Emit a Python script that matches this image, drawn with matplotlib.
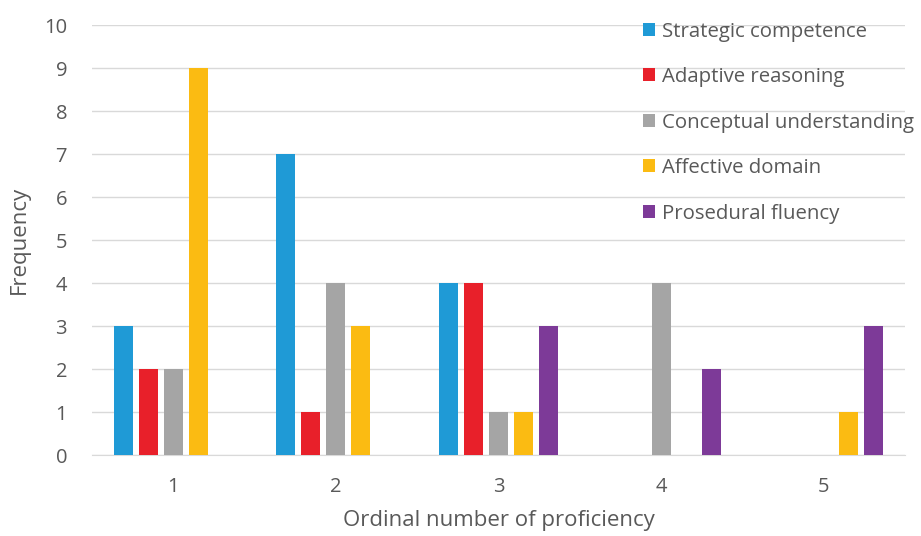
import numpy as np
import matplotlib.pyplot as plt

plt.rcParams['font.family'] = ['Open Sans', 'DejaVu Sans']

groups = [1, 2, 3, 4, 5]
series = ['Strategic competence', 'Adaptive reasoning', 'Conceptual understanding',
          'Affective domain', 'Prosedural fluency']
values = [
    [3, 7, 4, 0, 0],
    [2, 1, 4, 0, 0],
    [2, 4, 1, 4, 0],
    [9, 3, 1, 0, 1],
    [0, 0, 3, 2, 3],
]
colors = ['#1f9ad6', '#e8202a', '#a5a5a5', '#fbbb12', '#7d3a98']

fig = plt.figure(figsize=(9.21, 5.36), dpi=100)
ax = fig.add_axes([0.0999, 0.151, 0.8827, 0.802])

x = np.array(groups)
step = 0.154
width = 0.117
for i, (name, vals) in enumerate(zip(series, values)):
    ax.bar(x + (i - 2) * step, vals, width, color=colors[i], label=name, zorder=3)

ax.set_xlim(0.5, 5.5)
ax.set_ylim(0, 10)
ax.set_yticks(range(0, 11))
ax.set_xticks(groups)
ax.yaxis.grid(True, color='#d9d9d9', linewidth=1, zorder=0)
for s in ['top', 'right', 'left']:
    ax.spines[s].set_visible(False)
ax.spines['bottom'].set_color('#d9d9d9')
ax.tick_params(length=0, labelsize=14.5, colors='#595959')
ax.tick_params(axis='x', pad=16)
ax.tick_params(axis='y', pad=18)

ax.set_xlabel('Ordinal number of proficiency', fontsize=16, color='#595959', labelpad=9)
ax.set_ylabel('Frequency', fontsize=16, color='#595959', labelpad=10)

leg = ax.legend(loc='upper left', bbox_to_anchor=(0.689, 0.975), bbox_transform=fig.transFigure,
                frameon=False, fontsize=14.7, labelspacing=1.25, handlelength=0.6,
                handleheight=0.6, handletextpad=0.35, borderaxespad=0)
for t in leg.get_texts():
    t.set_color('#595959')

fig.savefig('out.png', dpi=100)
